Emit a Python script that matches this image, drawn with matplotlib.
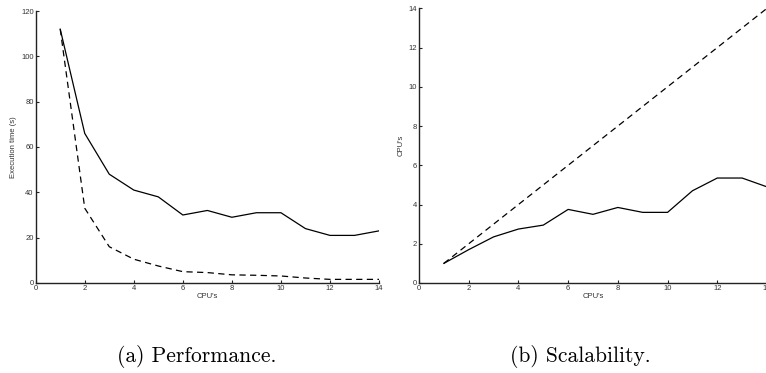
import matplotlib
matplotlib.use("Agg")
import matplotlib.pyplot as plt

# === Data ===
cpus = [1, 2, 3, 4, 5, 6, 7, 8, 9, 10, 11, 12, 13, 14]
exec_time = [112, 66, 48, 41, 38, 30, 32, 29, 31, 31, 24, 21, 21, 23]
ideal_time = [112, 33, 16, 10.5, 7.5, 5, 4.6, 3.6, 3.4, 3.1, 2.2, 1.6, 1.6, 1.6]
speedup = [1, 1.7, 2.35, 2.75, 2.95, 3.75, 3.5, 3.85, 3.6, 3.6, 4.7, 5.35, 5.35, 4.9]
ideal_speedup = [1, 2, 3, 4, 5, 6, 7, 8, 9, 10, 11, 12, 13, 14]

xticks = [0, 2, 4, 6, 8, 10, 12, 14]
yticks_time = [0, 20, 40, 60, 80, 100, 120]
yticks_speed = [0, 2, 4, 6, 8, 10, 12, 14]

plt.rcParams["font.family"] = ["Liberation Sans", "DejaVu Sans"]
tick_fs = 5.5

fig = plt.figure(figsize=(7.66, 3.73), dpi=100)
ax1 = fig.add_axes([0.0466, 0.2413, 0.4482, 0.7292])
ax2 = fig.add_axes([0.547, 0.2413, 0.4543, 0.7364])


def style(ax):
    for side in ["top", "right"]:
        ax.spines[side].set_visible(False)
    for side in ["left", "bottom"]:
        ax.spines[side].set_linewidth(1.0)
        ax.spines[side].set_color("#222222")
    ax.tick_params(direction="in", length=2.5, width=0.8, labelsize=tick_fs,
                   pad=1.5, colors="#222222", labelcolor="#333333")
    ax.set_xlim(0, 14)
    ax.set_xticks(xticks)
    ax.set_xlabel("CPU's", fontsize=tick_fs, labelpad=1, color="#333333")


# === (a) Performance ===
ax1.plot(cpus, exec_time, color="black", lw=0.9)
ax1.plot(cpus, ideal_time, color="black", lw=0.9, dashes=(5, 3.5))
style(ax1)
ax1.set_ylim(0, 120)
ax1.set_yticks(yticks_time)
ax1.set_ylabel("Execution time (s)", fontsize=tick_fs, labelpad=3, color="#333333")

# === (b) Scalability ===
ax2.plot(cpus, speedup, color="black", lw=0.9)
ax2.plot(cpus, ideal_speedup, color="black", lw=0.9, dashes=(5, 3.5))
style(ax2)
ax2.set_ylim(0, 14)
ax2.set_yticks(yticks_speed)
ax2.set_ylabel("CPU's", fontsize=tick_fs, labelpad=3, color="#333333")

# === Captions ===
fig.text(197 / 766, 1 - 357 / 373, "(a) Performance.", family="cmr10",
         fontsize=15.5, ha="center", va="center")
fig.text(580 / 766, 1 - 357 / 373, "(b) Scalability.", family="cmr10",
         fontsize=15.5, ha="center", va="center")

fig.savefig("out.png", dpi=100)
